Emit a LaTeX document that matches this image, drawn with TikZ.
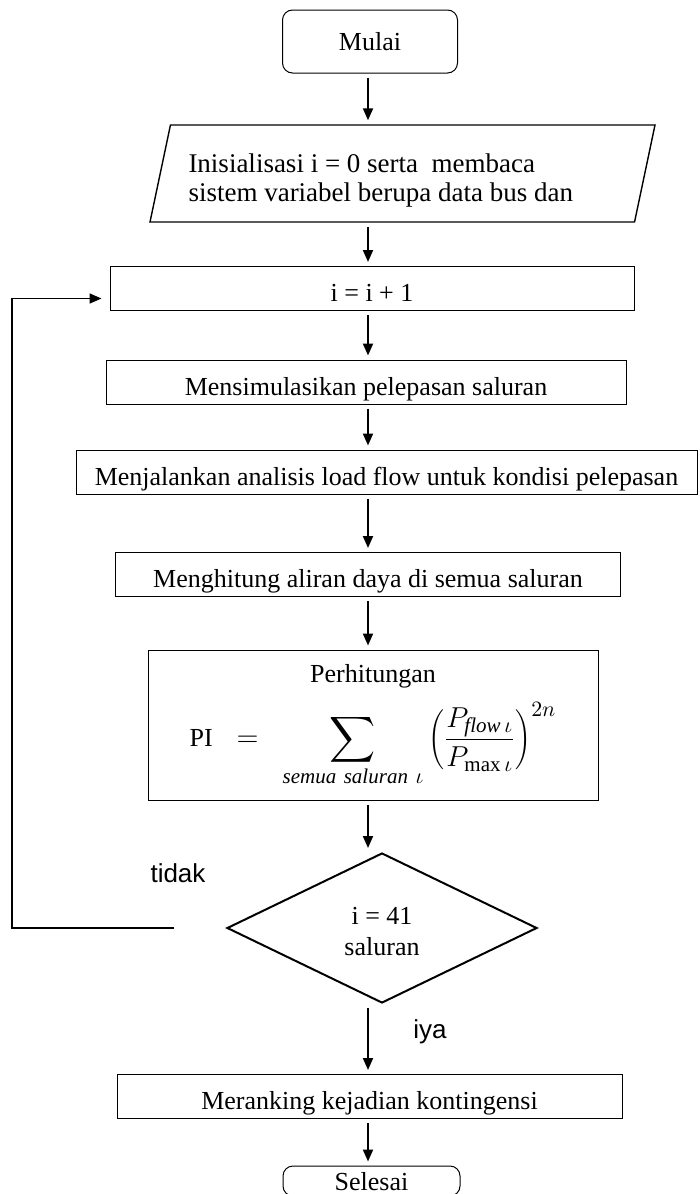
\documentclass[tikz,border=0pt]{standalone}
\usepackage{fontspec}
\usepackage{graphicx}
\setmainfont{Liberation Serif}
\newfontfamily\labelfont{Liberation Sans}
\usetikzlibrary{arrows.meta,shapes.geometric}
\newcommand{\bigsum}{\mathop{\vcenter{\hbox{\scalebox{1.6}{$\displaystyle\sum$}}}}\limits}

\begin{document}
\begin{tikzpicture}[
    x=0.5pt, y=-0.5pt,
    font=\fontsize{13}{15.5}\selectfont,
    box/.style={rectangle, draw, line width=0.5pt, minimum height=22pt,
                inner ysep=0pt, text height=13pt, text depth=0pt},
    term/.style={rectangle, rounded corners=5pt, draw, line width=0.5pt},
    io/.style={trapezium, trapezium left angle=74, trapezium right angle=106,
               trapezium stretches body, draw, line width=0.7pt,
               minimum height=48.5pt, minimum width=252.5pt},
    dec/.style={diamond, draw, line width=1pt, align=center, inner sep=0pt,
                minimum width=155pt, minimum height=75pt},
    arr/.style={-{Triangle[length=6pt,width=5pt]}, line width=1pt,
                shorten <=2pt, shorten >=2pt},
    lbl/.style={font=\labelfont\fontsize{13}{15}\selectfont}
  ]
  \useasboundingbox (0,0) rectangle (700,1194);
  \coordinate (spine) at (368,0);
  \coordinate (loopback) at (12,0);

  % flow steps
  \node[term, minimum width=87.5pt, minimum height=31.5pt] (start) at (370,41.5) {Mulai};
  \node[io] (init) at (402.5,173.5)
    {\raisebox{-4pt}[\height][\depth]{\fontsize{13.5}{14.5}\selectfont
      \begin{tabular}{@{}p{214pt}@{}}
        Inisialisasi i = 0 serta~ membaca\\
        sistem variabel berupa data bus dan
      \end{tabular}}};
  \node[box, minimum width=262pt] (inc) at (372,288.5) {i = i + 1};
  \node[box, minimum width=260pt] (sim) at (366,382) {Mensimulasikan pelepasan saluran};
  \node[box, minimum width=310.5pt] (run) at (386.5,472)
    {Menjalankan analisis load flow untuk kondisi pelepasan};
  \node[box, minimum width=252.5pt] (flow) at (368,574.5)
    {Menghitung aliran daya di semua saluran};
  \node[draw, line width=0.5pt, minimum width=225pt, minimum height=75pt,
        align=center] (calc) at (373,725)
    {Perhitungan\\[6pt]
     {\fontsize{15}{18}\selectfont
      $\displaystyle \mbox{\fontsize{13}{15}\selectfont PI}\;\;=\;\;
       \bigsum_{\mathit{semua\ saluran}\ \iota}
       \left(\frac{P_{\mathit{flow}\,\iota}}{P_{\max\iota}}\right)^{2n}$}};
  \node[dec] (dec) at (382,928) {\raisebox{-3pt}[\height][\depth]{%
    \begin{tabular}{@{}c@{}}i = 41\\saluran\end{tabular}}};
  \node[box, minimum width=252.5pt] (rank) at (369.5,1096.5)
    {Meranking kejadian kontingensi};
  \node[term, minimum width=88.5pt, minimum height=15pt, inner ysep=0pt,
        text depth=0pt] (stop) at (371.5,1181) {Selesai};

  % branch labels
  \node[lbl] (no) at (178,873) {tidak};
  \node[lbl] (yes) at (430,1032) {iya};

  % connectors
  \draw[arr] (start.south -| spine) -- (init.north -| spine);
  \draw[arr] (init.south -| spine) -- (inc.north -| spine);
  \draw[arr] (inc.south -| spine) -- (sim.north -| spine);
  \draw[arr] (sim.south -| spine) -- (run.north -| spine);
  \draw[arr] (run.south -| spine) -- (flow.north -| spine);
  \draw[arr] (flow.south -| spine) -- (calc.north -| spine);
  \draw[arr] (calc.south -| spine) -- (dec.north -| spine);
  \draw[arr] (dec.south -| spine) -- (rank.north -| spine);
  \draw[arr] (rank.south -| spine) -- (stop.north -| spine);

  \coordinate (noexit) at ([xshift=-26pt]dec.west);
  \draw[arr, line width=0.8pt, shorten <=0pt, shorten >=4pt]
    (noexit) -- (noexit -| loopback) |- ([yshift=-5pt]inc.west);
\end{tikzpicture}
\end{document}
